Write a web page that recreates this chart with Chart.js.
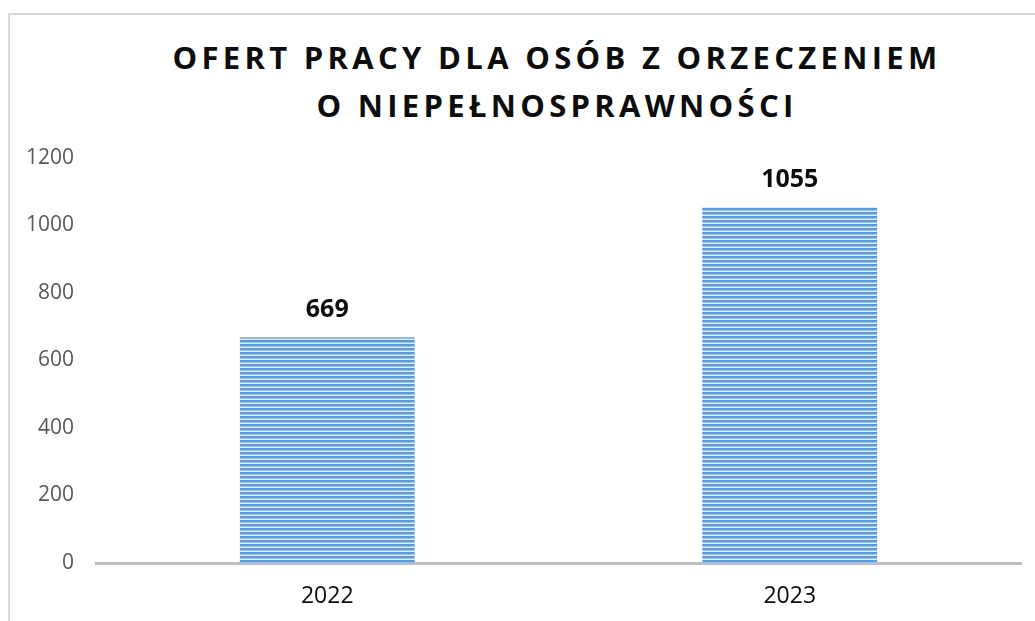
<!DOCTYPE html>
<html>
<head>
<meta charset="utf-8">
<script src="https://cdn.jsdelivr.net/npm/chart.js@4"></script>
<style>
    body { margin: 0; background: #fff; }
    #wrap { position: relative; width: 1035px; height: 621px; overflow: hidden; }
    #frame {
        position: absolute; left: 8px; top: 13px; width: 1100px; height: 700px;
        border-left: 2px solid #d9d9d9; border-top: 2px solid #d9d9d9;
    }
    #title {
        position: absolute; left: 0; top: 33px; width: 1114px; text-align: center;
        font-family: 'Open Sans', sans-serif; font-weight: 700; font-size: 31px;
        letter-spacing: 4.3px; line-height: 48px; color: #0d0d0d;
    }
    canvas { position: absolute; left: 0; top: 0; }
</style>
</head>
<body>
<div id="wrap">
    <div id="frame"></div>
    <div id="title">OFERT PRACY DLA OSÓB Z ORZECZENIEM<br>O NIEPEŁNOSPRAWNOŚCI</div>
    <canvas id="offersChart" width="1035" height="621"></canvas>
</div>
<script>
// Data
const years = ['2022', '2023'];
const offers = [669, 1055];
const yTicks = [0, 200, 400, 600, 800, 1000, 1200];

// Striped fill like the original bars
function makeStripes() {
    const c = document.createElement('canvas');
    c.width = 4;
    c.height = 4;
    const g = c.getContext('2d');
    const rows = ['#5b9bd5', '#5b9bd5', '#9dc3e6', '#deebf7'];
    rows.forEach((col, i) => {
        g.fillStyle = col;
        g.fillRect(0, i, 4, 1);
    });
    return g.createPattern(c, 'repeat');
}

// Value labels above bars
const valueLabels = {
    id: 'valueLabels',
    afterDatasetsDraw(chart) {
        const ctx = chart.ctx;
        const meta = chart.getDatasetMeta(0);
        ctx.save();
        ctx.font = 'bold 25px "Open Sans", sans-serif';
        ctx.fillStyle = '#0d0d0d';
        ctx.textAlign = 'center';
        ctx.textBaseline = 'alphabetic';
        meta.data.forEach((bar, i) => {
            ctx.fillText(offers[i], bar.x, bar.y - 20);
        });
        ctx.restore();
    }
};

const ctx = document.getElementById('offersChart');

const config = {
    type: 'bar',
    data: {
        labels: years,
        datasets: [{
            data: offers,
            backgroundColor: makeStripes(),
            borderWidth: 0,
            categoryPercentage: 0.378,
            barPercentage: 1
        }]
    },
    options: {
        responsive: false,
        animation: false,
        layout: {
            padding: { top: 158, right: 14, bottom: 0, left: 0 }
        },
        plugins: {
            legend: { display: false },
            tooltip: { enabled: false }
        },
        scales: {
            x: {
                grid: { display: false, drawTicks: false },
                border: { display: true, color: '#bfbfbf', width: 3 },
                ticks: {
                    color: '#0d0d0d',
                    font: { family: 'Open Sans', size: 23 },
                    padding: 20
                },
                afterFit(scale) { scale.height = 58; }
            },
            y: {
                min: 0,
                max: 1200,
                afterBuildTicks(scale) {
                    scale.ticks = yTicks.map(v => ({ value: v }));
                },
                grid: { display: false, drawTicks: false },
                border: { display: false },
                ticks: {
                    color: '#595959',
                    font: { family: 'Open Sans', size: 21 },
                    padding: 22,
                    callback: value => String(value)
                },
                afterFit(scale) { scale.width = 96; }
            }
        }
    },
    plugins: [valueLabels]
};

new Chart(ctx, config);
</script>
</body>
</html>
